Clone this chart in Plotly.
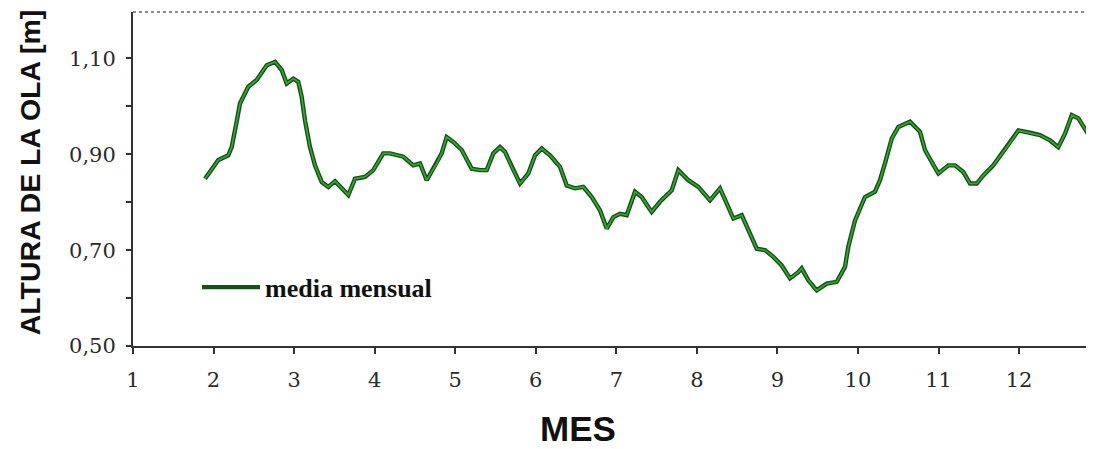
import plotly.graph_objects as go

# Month (fractional) and monthly mean wave height [m]
mes = [1.894, 2.059, 2.183, 2.225, 2.287, 2.328, 2.431, 2.536, 2.660, 2.763,
       2.846, 2.908, 2.990, 3.052, 3.094, 3.135, 3.197, 3.259, 3.343, 3.425,
       3.508, 3.591, 3.673, 3.756, 3.880, 3.983, 4.107, 4.191, 4.356, 4.480,
       4.563, 4.646, 4.770, 4.832, 4.894, 4.976, 5.081, 5.205, 5.308, 5.391,
       5.473, 5.556, 5.618, 5.701, 5.804, 5.908, 5.991, 6.074, 6.177, 6.301,
       6.384, 6.487, 6.590, 6.695, 6.798, 6.881, 6.963, 7.046, 7.129, 7.232,
       7.315, 7.397, 7.439, 7.542, 7.688, 7.770, 7.894, 8.018, 8.163, 8.287,
       8.371, 8.453, 8.557, 8.639, 8.743, 8.846, 8.949, 9.053, 9.156, 9.259,
       9.301, 9.384, 9.488, 9.612, 9.736, 9.839, 9.880, 9.963, 10.087, 10.211,
       10.273, 10.335, 10.419, 10.501, 10.646, 10.770, 10.832, 10.915, 10.998, 11.122,
       11.205, 11.308, 11.391, 11.474, 11.556, 11.680, 11.805, 11.909, 11.991, 12.136,
       12.260, 12.384, 12.487, 12.570, 12.654, 12.736, 12.840, 12.897, 12.930]

altura = [0.849, 0.888, 0.898, 0.915, 0.968, 1.006, 1.041, 1.055, 1.086, 1.093,
          1.076, 1.048, 1.058, 1.051, 1.020, 0.971, 0.915, 0.877, 0.842, 0.832,
          0.844, 0.829, 0.815, 0.849, 0.853, 0.867, 0.902, 0.902, 0.895, 0.877,
          0.881, 0.846, 0.881, 0.902, 0.936, 0.926, 0.909, 0.870, 0.867, 0.867,
          0.902, 0.915, 0.905, 0.874, 0.839, 0.860, 0.898, 0.912, 0.898, 0.874,
          0.835, 0.829, 0.832, 0.811, 0.783, 0.745, 0.769, 0.776, 0.773, 0.822,
          0.811, 0.790, 0.780, 0.801, 0.825, 0.867, 0.846, 0.832, 0.804, 0.829,
          0.797, 0.766, 0.773, 0.742, 0.703, 0.700, 0.686, 0.668, 0.641, 0.654,
          0.662, 0.637, 0.616, 0.630, 0.634, 0.665, 0.707, 0.762, 0.811, 0.822,
          0.846, 0.881, 0.933, 0.957, 0.968, 0.947, 0.909, 0.884, 0.860, 0.877,
          0.877, 0.863, 0.839, 0.839, 0.856, 0.877, 0.905, 0.929, 0.950, 0.945,
          0.940, 0.929, 0.915, 0.943, 0.982, 0.975, 0.947, 0.964, 0.982]

x_ticks = [1, 2, 3, 4, 5, 6, 7, 8, 9, 10, 11, 12]
y_ticks = [0.50, 0.70, 0.90, 1.10]
y_tick_text = ["0,50", "0,70", "0,90", "1,10"]
y_minor = [0.60, 0.80, 1.00]

fig = go.Figure()
fig.add_trace(go.Scatter(
    x=mes, y=altura, mode="lines", name="media mensual",
    line=dict(color="#1a4d1a", width=4.4), showlegend=True,
))
fig.add_trace(go.Scatter(
    x=mes, y=altura, mode="lines", name="media mensual",
    line=dict(color="#2fae2f", width=1.6), showlegend=False, hoverinfo="skip",
))

tick_font = dict(family="DejaVu Serif", size=21, color="#2a2a2a")

# the page body adds an 8px offset; the figure is sized to fill the window exactly
fig.update_layout(
    width=1086, height=441,
    margin=dict(l=125, r=0, t=4, b=103, autoexpand=False),
    paper_bgcolor="white", plot_bgcolor="white",
    xaxis=dict(
        range=[1, 12.93], tickmode="array", tickvals=x_ticks,
        ticks="outside", ticklen=6, tickwidth=2, tickcolor="#333333",
        showline=True, linecolor="#333333", linewidth=2,
        showgrid=False, zeroline=False, tickfont=tick_font,
        ticklabelstandoff=8,
    ),
    yaxis=dict(
        range=[0.5, 1.197], tickmode="array", tickvals=y_ticks, ticktext=y_tick_text,
        ticks="outside", ticklen=5, tickwidth=2, tickcolor="#333333",
        minor=dict(tickmode="array", tickvals=y_minor, ticks="outside", ticklen=5,
                   tickwidth=2, tickcolor="#333333", showgrid=False),
        showline=True, linecolor="#333333", linewidth=2,
        showgrid=False, zeroline=False, tickfont=tick_font,
        ticklabelstandoff=6,
    ),
    legend=dict(
        x=(197 - 133) / 961, y=0.176, xanchor="left", yanchor="middle",
        bgcolor="rgba(0,0,0,0)", borderwidth=0,
        font=dict(family="Liberation Serif", size=26, color="#111111", weight="bold"),
        itemwidth=58,
    ),
    shapes=[dict(type="line", xref="paper", yref="paper", x0=0, x1=1, y0=1, y1=1,
                 line=dict(color="#8a8a8a", width=2, dash="dot"))],
    annotations=[
        dict(text="<b>ALTURA DE LA OLA [m]</b>", xref="paper", yref="paper",
             x=(30 - 133) / 961, y=0.52, textangle=-90, showarrow=False,
             xanchor="center", yanchor="middle",
             font=dict(family="Liberation Sans", size=28.5, color="#111111")),
        dict(text="<b>MES</b>", xref="paper", yref="paper",
             x=(578 - 133) / 961, y=(345.7 - 428) / 334, showarrow=False,
             xanchor="center", yanchor="middle",
             font=dict(family="Liberation Sans", size=35, color="#111111")),
    ],
)

fig.write_html("out.html")
